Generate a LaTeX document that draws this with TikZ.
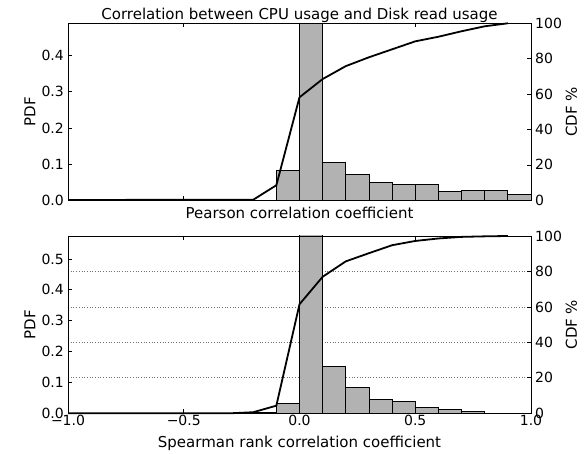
\documentclass[tikz,border=0pt]{standalone}
\usepackage{fontspec}
\setmainfont{DejaVu Sans}
\definecolor{bargray}{rgb}{0.7,0.7,0.7}
\definecolor{gridgray}{rgb}{0.45,0.45,0.45}

\begin{document}
\begin{tikzpicture}[x=1pt, y=1pt, font=\fontsize{14}{16}\selectfont]
\tikzset{bar/.style={draw=black, fill=bargray, line width=0.9pt},
         cdfline/.style={line width=1.8pt, line join=round},
         frame/.style={draw, line width=0.9pt},
         tickmark/.style={line width=0.7pt},
         gridline/.style={dotted, gridgray, line width=0.7pt},
         ticklbl/.style={inner sep=0pt},
         axlbl/.style={font=\fontsize{15}{18}\selectfont, inner sep=0pt}}
\useasboundingbox (0,0) rectangle (587,454);

% upper panel: Pearson
\begin{scope}[shift={(299.5,253.7)}, x=231.5pt, y=361.5pt]
  \begin{scope}
    \clip (-1,0) rectangle (1,0.4896);
    \foreach \xl/\h in {-1/0.002, -0.1/0.083, 0/0.6, 0.1/0.105, 0.2/0.072,
                        0.3/0.048, 0.4/0.043, 0.5/0.044, 0.6/0.025,
                        0.7/0.0285, 0.8/0.0277, 0.9/0.0174}
      \draw[bar] (\xl,0) rectangle ++(0.1,\h);
  \end{scope}
  \begin{scope}[y=1.77pt]
    \draw[cdfline] plot coordinates {(-1,0.2) (-0.9,0.2) (-0.2,0.3) (-0.1,8.5)
      (0,58.2) (0.1,68.5) (0.2,75.8) (0.3,80.8) (0.4,85.3) (0.5,89.8)
      (0.6,92.4) (0.7,95.5) (0.8,98.3) (0.9,100)};
    \foreach \c [count=\i] in {0,20,40,60,80,100} {
      \draw[tickmark] (1,\c) -- ++(-4pt,0);
      \node[ticklbl, anchor=west, xshift=4pt] (tcdf\i) at (1,\c) {\c};
    }
  \end{scope}
  \foreach \v [count=\i] in {0.0,0.1,0.2,0.3,0.4} {
    \draw[tickmark] (-1,\v) -- ++(4pt,0);
    \node[ticklbl, anchor=east, xshift=-4pt] (tpdf\i) at (-1,\v) {\v};
  }
  \foreach \t in {-1,-0.5,0,0.5,1} {
    \draw[tickmark] (\t,0) -- ++(0,4pt);
    \draw[tickmark] (\t,0.4896) -- ++(0,-4pt);
  }
  \draw[frame] (-1,0) rectangle (1,0.4896);
\end{scope}

% lower panel: Spearman
\begin{scope}[shift={(299.5,40.7)}, x=231.5pt, y=308.7pt]
  \begin{scope}[y=1.773pt]
    \foreach \c in {20,40,60,80}
      \draw[gridline] (-1,\c) -- (1,\c);
  \end{scope}
  \begin{scope}
    \clip (-1,0) rectangle (1,0.5744);
    \foreach \xl/\h in {-0.2/0.002, -0.1/0.032, 0/0.7, 0.1/0.152, 0.2/0.084,
                        0.3/0.044, 0.4/0.0376, 0.5/0.0194, 0.6/0.0117,
                        0.7/0.0053, 0.8/0.001, 0.9/0.0005}
      \draw[bar] (\xl,0) rectangle ++(0.1,\h);
  \end{scope}
  \begin{scope}[y=1.773pt]
    \draw[cdfline] plot coordinates {(-1,0) (-0.3,0) (-0.2,0.6) (-0.1,4.3)
      (0,61.5) (0.1,77) (0.2,85.7) (0.3,90.3) (0.4,94.8) (0.5,97.2)
      (0.6,98.6) (0.7,99.5) (0.8,99.8) (0.9,100)};
    \foreach \c [count=\i] in {0,20,40,60,80,100} {
      \draw[tickmark] (1,\c) -- ++(-4pt,0);
      \node[ticklbl, anchor=west, xshift=4pt] (bcdf\i) at (1,\c) {\c};
    }
  \end{scope}
  \foreach \v [count=\i] in {0.0,0.1,0.2,0.3,0.4,0.5} {
    \draw[tickmark] (-1,\v) -- ++(4pt,0);
    \node[ticklbl, anchor=east, xshift=-4pt] (bpdf\i) at (-1,\v) {\v};
  }
  \foreach \t/\s [count=\i] in {-1/−1.0,-0.5/−0.5,0/0.0,0.5/0.5,1/1.0} {
    \draw[tickmark] (\t,0) -- ++(0,4pt);
    \draw[tickmark] (\t,0.5744) -- ++(0,-4pt);
    \node[ticklbl, anchor=north, yshift=-2pt] (bx\i) at (\t,0) {\s};
  }
  \draw[frame] (-1,0) rectangle (1,0.5744);
\end{scope}

% titles and axis labels
\node[axlbl, anchor=base] (title) at (299.5,434.8)
  {Correlation between CPU usage and Disk read usage};
\node[axlbl, anchor=base] (pearson) at (299.5,235)
  {Pearson correlation coefficient};
\node[axlbl, anchor=base] (spearman) at (299.5,6.5)
  {Spearman rank correlation coefficient};
\node[axlbl, rotate=90] (pdftop) at (30,342.2) {PDF};
\node[axlbl, rotate=90] (pdfbot) at (30,129.4) {PDF};
\node[axlbl, rotate=90] (cdftop) at (571.5,342.2) {CDF \%};
\node[axlbl, rotate=90] (cdfbot) at (571.5,129.4) {CDF \%};
\end{tikzpicture}
\end{document}
